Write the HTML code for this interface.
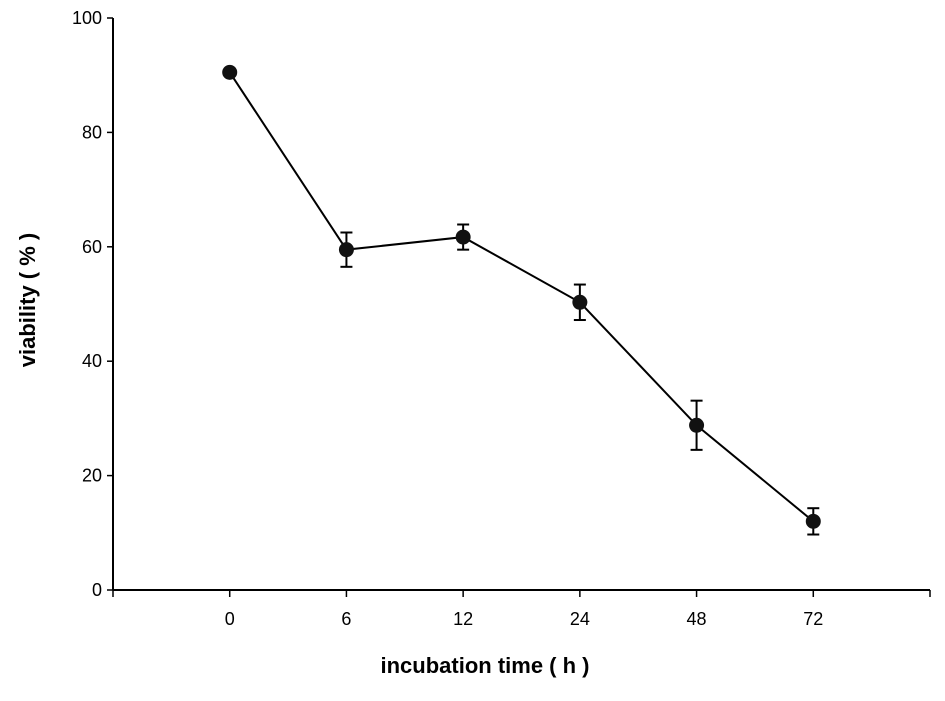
<!DOCTYPE html>
<html><head><meta charset="utf-8"><style>
body{margin:0;background:#fff;}
svg text{font-family:"Liberation Sans",sans-serif;fill:#000;}
</style></head><body>
<svg id="chart" width="945" height="696" xmlns="http://www.w3.org/2000/svg">
<g id="axes"></g><g id="series"></g>
<text transform="translate(35,300) rotate(-90)" text-anchor="middle" font-size="22" font-weight="bold">viability ( % )</text>
<text x="485" y="673" text-anchor="middle" font-size="22" font-weight="bold">incubation time ( h )</text>
</svg>
<script>
const categories=["0","6","12","24","48","72"];
const values=[90.5,59.5,61.7,50.3,28.8,12.0];
const errors=[0,3.0,2.2,3.1,4.3,2.3];
const yTicks=[0,20,40,60,80,100];
const NS="http://www.w3.org/2000/svg";
const x0=113,x1=930,yTop=18,yBot=590;
const step=(x1-x0)/(categories.length+1);
const xs=i=>x0+step*(i+1);
const ys=v=>yBot-(v/100)*(yBot-yTop);
function mk(tag,attrs,parent){const e=document.createElementNS(NS,tag);for(const k in attrs)e.setAttribute(k,attrs[k]);parent.appendChild(e);return e;}
const ax=document.getElementById('axes'),se=document.getElementById('series');
let e=mk('line',{x1:x0,y1:yTop,x2:x0,y2:yBot,stroke:'#000','stroke-width':2},ax);


e=mk('line',{x1:x0,y1:yBot,x2:x1,y2:yBot,stroke:'#000','stroke-width':2},ax);


yTicks.forEach(t=>{const y=ys(t);
 mk('line',{x1:x0-6,y1:y,x2:x0,y2:y,stroke:'#000','stroke-width':1.5},ax);
 const tx=mk('text',{x:x0-11,y:y+6,'text-anchor':'end','font-size':18},ax);tx.textContent=t;
 
 
});
for(let i=0;i<=categories.length+1;i++){const x=x0+step*i;mk('line',{x1:x,y1:yBot,x2:x,y2:yBot+7,stroke:'#000','stroke-width':1.5},ax);}
categories.forEach((c,i)=>{const tx=mk('text',{x:xs(i),y:yBot+35,'text-anchor':'middle','font-size':18},ax);tx.textContent=c;
 
 
});
const pl=mk('polyline',{points:values.map((v,i)=>xs(i)+','+ys(v)).join(' '),fill:'none',stroke:'#000','stroke-width':2},se);


values.forEach((v,i)=>{const x=xs(i);
 if(errors[i]>0){const t=ys(v+errors[i]),b=ys(v-errors[i]);
  const g=mk('g',{stroke:'#000','stroke-width':2},se);
  
  
  mk('line',{x1:x,y1:t,x2:x,y2:b},g);mk('line',{x1:x-6,y1:t,x2:x+6,y2:t},g);mk('line',{x1:x-6,y1:b,x2:x+6,y2:b},g);}
 const c=mk('circle',{cx:x,cy:ys(v),r:7.5,fill:'#111'},se);
 
 
});
</script>
</body></html>
